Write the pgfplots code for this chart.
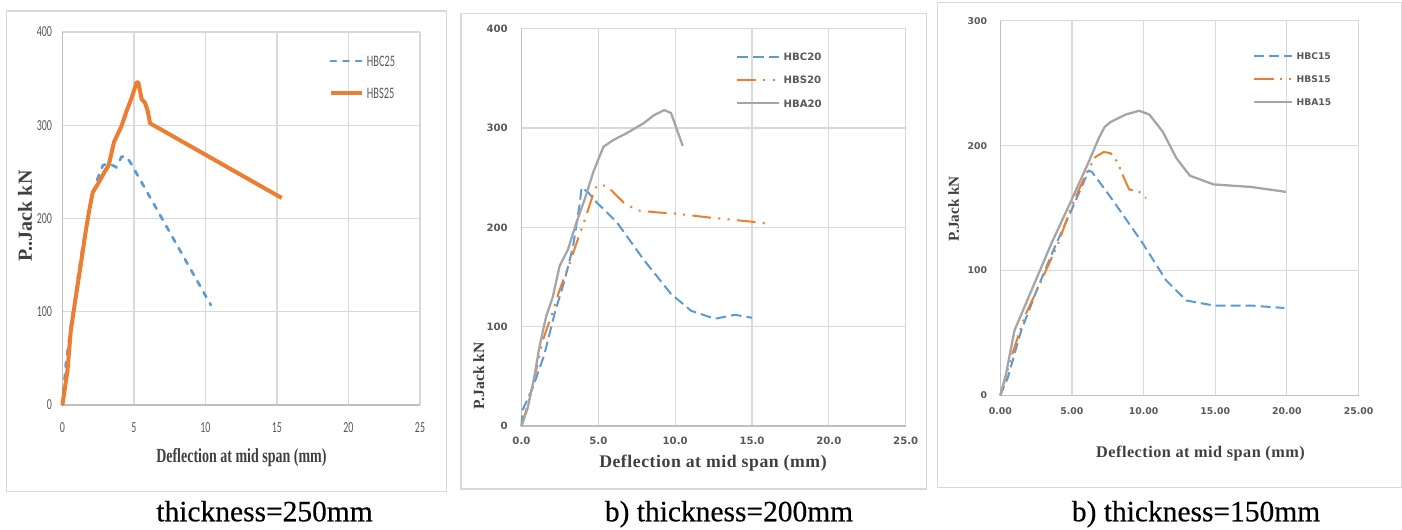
\documentclass[border=0pt]{standalone}
\usepackage{fontspec}
\setmainfont{Liberation Serif}
\newfontfamily\capfont[FakeBold=0.4]{Liberation Serif}
\newfontfamily\condsans[FakeStretch=0.65]{Carlito}
\newfontfamily\condserif[FakeStretch=0.7]{Liberation Serif}
\newfontfamily\dvsans{DejaVu Sans}
\newfontfamily\spserif[LetterSpace=3.0]{Liberation Serif}
\usepackage{pgfplots}
\pgfplotsset{compat=1.18}
\definecolor{cblue}{HTML}{5B9BD5}
\definecolor{corange}{HTML}{ED7D31}
\definecolor{cgray}{HTML}{A5A5A5}
\definecolor{gridc}{HTML}{D9D9D9}
\definecolor{axc}{HTML}{BFBFBF}
\definecolor{tickc}{HTML}{595959}
\definecolor{labc}{HTML}{404040}
\definecolor{framec}{HTML}{D9D9D9}
\pgfplotsset{
 common/.style={
  scale only axis, axis lines*=left, grid=major,
  grid style={draw=gridc, line width=0.9pt},
  axis line style={draw=axc, line width=1pt},
  major tick length=0pt,
  /pgf/number format/assume math mode=true,
  ticklabel style={inner sep=0pt, text=tickc},
  legend cell align=left,
  clip=false,
  xmin=0, xmax=25, ymin=0,
  xtick={0,5,...,25},
 }
}
\begin{document}
\begin{tikzpicture}
\useasboundingbox (0,0) rectangle (1051.5pt,396.75pt);
\draw[framec, line width=1pt] (5pt,28pt) rectangle (335pt,388.5pt);
\draw[framec, line width=1pt] (345.75pt,30pt) rectangle (695pt,386.7pt);
\draw[framec, line width=1pt] (703pt,31.1pt) rectangle (1051pt,395.1pt);

% ---------------- panel 1
\begin{axis}[common, at={(46.8pt,93.1pt)}, anchor=south west,
 width=268.2pt, height=279.6pt, ymax=400, ytick={0,100,...,400},
 ticklabel style={font=\condsans\fontsize{11.5}{12}\selectfont},
 yticklabel style={anchor=east, xshift=-7.6pt},
 xticklabel style={anchor=center, yshift=-17pt},
 xlabel={Deflection at mid span (mm)},
 xlabel style={at={(axis description cs:0.5006,-0.1419)}, anchor=center, font=\condserif\bfseries\fontsize{15}{16}\selectfont, text=labc},
 ylabel={P..Jack kN},
 ylabel style={at={(axis description cs:-0.1046,0.5066)}, anchor=center, font=\rmfamily\bfseries\fontsize{15}{16}\selectfont, text=labc},
 legend style={at={(axis description cs:0.7436,0.9371)}, anchor=north west, draw=none, fill=none, inner sep=0pt, row sep=15.8pt,
   font=\condsans\fontsize{12}{12}\selectfont, text=tickc, nodes={inner sep=0pt, text height=8pt, text depth=0pt},
   /tikz/every odd column/.append style={column sep=2pt}},
 legend image code/.code={\draw[#1] (0pt,0pt) -- (23.8pt,0pt);},
]
\addplot[cblue, line width=2pt, line cap=round, dash pattern=on 4pt off 5.5pt] coordinates {
(0,0) (0.24,43) (0.55,80) (0.83,109) (1.30,159) (1.65,190) (1.89,210) (2.36,239) (2.83,257) (3.18,259) (3.5,257) (3.77,255) (4.13,266) (4.36,267) (4.72,261) (10.38,107)};
\addlegendentry{HBC25}
\addplot[corange, line width=3pt, line join=round] coordinates {
(0,0) (0.35,36) (0.59,80) (0.94,116) (1.30,152) (1.65,188) (1.89,210) (2.12,228) (2.48,237) (2.95,250) (3.23,257) (3.37,266) (3.61,282) (3.85,290) (4.13,299) (4.48,315) (4.83,329) (5.19,346) (5.31,346) (5.54,328) (5.78,324) (5.97,315) (6.13,302) (6.37,300) (15.33,222)};
\addlegendentry{HBS25}
\end{axis}

% ---------------- panel 2
\begin{axis}[common, at={(391.1pt,77.2pt)}, anchor=south west,
 width=288.2pt, height=298.1pt, ymax=400, ytick={0,100,...,400},
 ticklabel style={font=\dvsans\bfseries\fontsize{7.6}{8}\selectfont},
 yticklabel style={anchor=east, xshift=-10.1pt},
 xticklabel style={anchor=center, yshift=-11.4pt, /pgf/number format/fixed, /pgf/number format/fixed zerofill, /pgf/number format/precision=1},
 xlabel={Deflection at mid span (mm)},
 xlabel style={at={(axis description cs:0.4984,-0.0926)}, anchor=center, font=\spserif\bfseries\fontsize{13.3}{14}\selectfont, text=labc},
 ylabel={P.Jack kN},
 ylabel style={at={(axis description cs:-0.1111,0.1266)}, anchor=center, font=\rmfamily\bfseries\fontsize{11.7}{12}\selectfont, text=labc},
 legend style={at={(axis description cs:0.5583,0.9404)}, anchor=north west, draw=none, fill=none, inner sep=0pt, row sep=11.5pt,
   font=\dvsans\bfseries\fontsize{7.6}{8}\selectfont, text=tickc, nodes={inner sep=0pt, text height=6pt, text depth=0pt},
   /tikz/every odd column/.append style={column sep=2.8pt}},
 legend image code/.code={\draw[#1] (0pt,0pt) -- (31pt,0pt);},
]
\addplot[cblue, line width=1.5pt, dash pattern=on 8pt off 3.75pt] coordinates {
(0,0) (0.07,16) (0.72,38) (1.49,72) (2.15,113) (2.81,147) (3.36,181) (3.80,225) (3.91,240) (4.35,235) (4.90,225) (6.21,205) (7.97,167) (9.73,133) (11.04,116) (12.58,108) (13.89,112) (14.99,109)};
\addlegendentry{HBC20}
\addplot[corange, line width=1.5pt, dash pattern=on 14pt off 5.5pt on 1.5pt off 5.5pt on 1.5pt off 5.5pt] coordinates {
(0,0) (0.40,21) (0.94,55) (1.38,86) (1.93,110) (2.48,137) (3.14,164) (3.58,184) (4.13,208) (4.68,234) (4.90,242) (5.55,242) (5.99,235) (6.65,225) (7.53,217) (8.85,215) (9.94,214) (12.14,210) (14.78,206) (15.87,204)};
\addlegendentry{HBS20}
\addplot[cgray, line width=1.7pt, line join=round] coordinates {
(0,0) (0.40,18) (0.83,49) (1.16,79) (1.60,110) (2.04,130) (2.48,161) (3.03,178) (3.58,205) (4.13,229) (4.68,256) (5.33,281) (5.99,288) (6.87,295) (7.97,305) (8.63,313) (9.29,318) (9.73,315) (10.49,282)};
\addlegendentry{HBA20}
\end{axis}

% ---------------- panel 3
\begin{axis}[common, at={(750.2pt,100.2pt)}, anchor=south west,
 width=268.7pt, height=280.9pt, ymax=300, ytick={0,100,...,300},
 ticklabel style={font=\dvsans\bfseries\fontsize{7}{8}\selectfont},
 yticklabel style={anchor=east, xshift=-9.6pt},
 xticklabel style={anchor=center, yshift=-11.7pt, /pgf/number format/fixed, /pgf/number format/fixed zerofill, /pgf/number format/precision=2},
 xlabel={Deflection at mid span (mm)},
 xlabel style={at={(axis description cs:0.5588,-0.156)}, anchor=center, font=\spserif\bfseries\fontsize{12.2}{13}\selectfont, text=labc},
 ylabel={P.Jack kN},
 ylabel style={at={(axis description cs:-0.130,0.498)}, anchor=center, font=\rmfamily\bfseries\fontsize{11.4}{12}\selectfont, text=labc},
 legend style={at={(axis description cs:0.7047,0.9178)}, anchor=north west, draw=none, fill=none, inner sep=0pt, row sep=11.9pt,
   font=\dvsans\bfseries\fontsize{6.9}{8}\selectfont, text=tickc, nodes={inner sep=0pt, text height=5.5pt, text depth=0pt},
   /tikz/every odd column/.append style={column sep=2.5pt}},
 legend image code/.code={\draw[#1] (0pt,0pt) -- (28.5pt,0pt);},
]
\addplot[cblue, line width=1.5pt, dash pattern=on 7.5pt off 3.75pt] coordinates {
(0,0) (0.52,14) (1.46,52) (2.64,87) (3.81,119) (4.99,149) (6.17,180) (6.40,179) (7.81,157) (9.93,122) (11.58,92) (12.99,76) (14.88,72) (17.47,72) (19.82,70)};
\addlegendentry{HBC15}
\addplot[corange, line width=1.5pt, dash pattern=on 15pt off 4.5pt on 1.5pt off 5pt on 1.5pt off 4.5pt] coordinates {
(0,0) (0.75,30) (1.69,63) (2.87,92) (4.05,122) (4.99,152) (6.05,179) (6.64,191) (7.23,195) (7.70,194) (8.17,187) (8.64,174) (8.99,165) (9.70,163) (10.17,158)};
\addlegendentry{HBS15}
\addplot[cgray, line width=1.7pt, line join=round] coordinates {
(0,0) (0.40,17) (0.99,52) (2.17,84) (3.58,122) (4.99,157) (6.17,187) (6.87,206) (7.28,215) (7.70,219) (8.76,225) (9.70,228) (10.40,225) (11.35,211) (12.29,190) (13.23,176) (14.88,169) (17.47,167) (19.94,163)};
\addlegendentry{HBA15}
\end{axis}

\node[anchor=base, font=\capfont\fontsize{22.1}{24}\selectfont] at (198.4pt,5.8pt) {thickness=250mm};
\node[anchor=base, font=\capfont\fontsize{22.1}{24}\selectfont] at (546.75pt,5.8pt) {b) thickness=200mm};
\node[anchor=base, font=\capfont\fontsize{22.1}{24}\selectfont] at (897pt,5.8pt) {b) thickness=150mm};
\end{tikzpicture}
\end{document}
